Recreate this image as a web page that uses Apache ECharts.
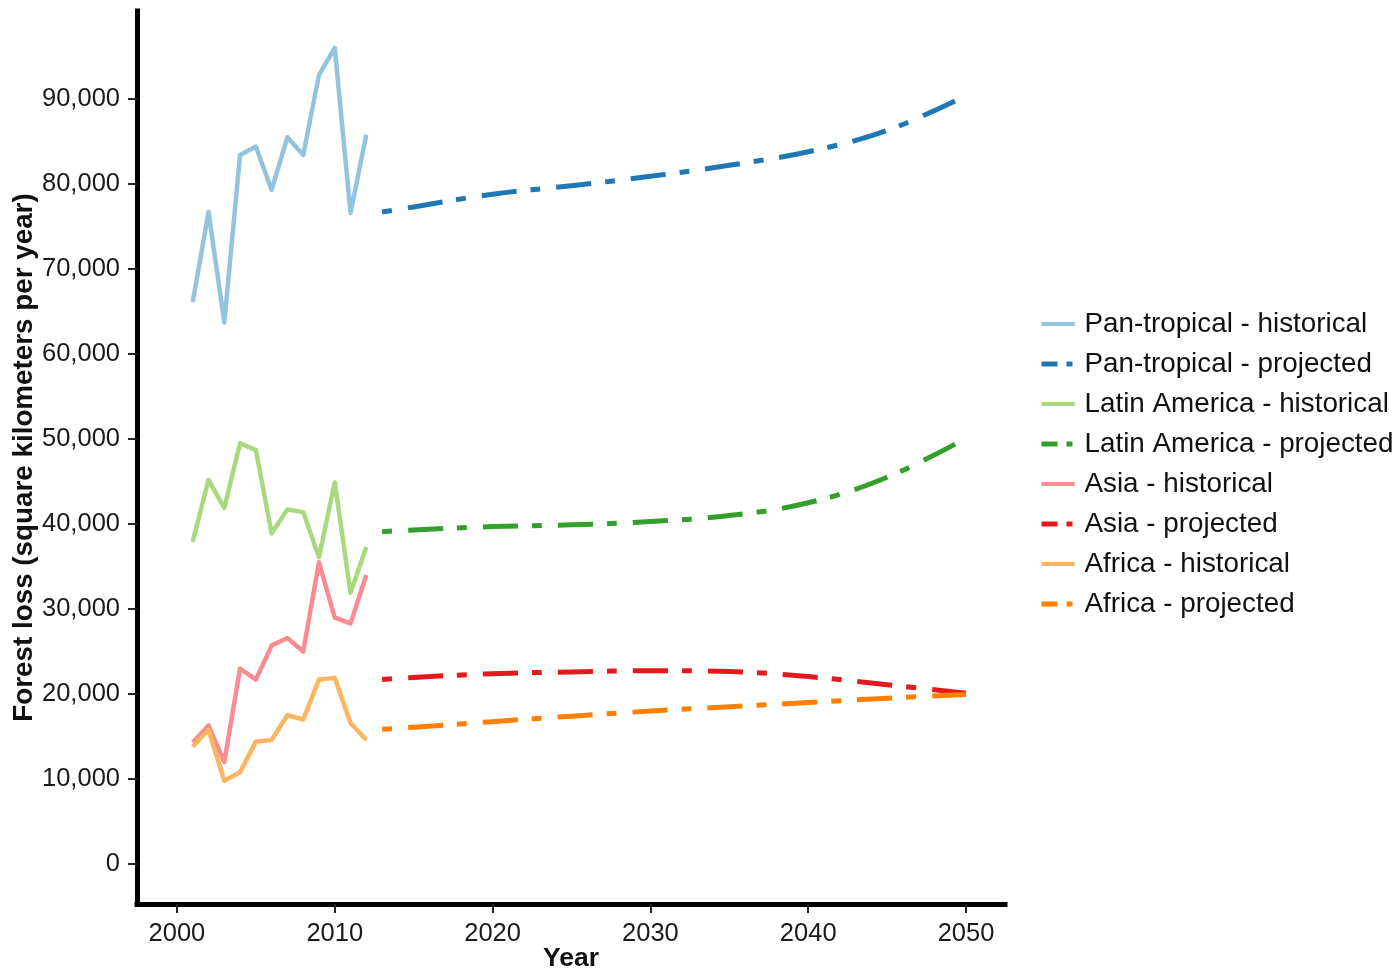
<!DOCTYPE html>
<html>
<head>
<meta charset="utf-8">
<script src="https://cdn.jsdelivr.net/npm/echarts@6/dist/echarts.min.js"></script>
<style>
html,body{margin:0;padding:0;background:#fff;}
#chart{width:1399px;height:974px;}
</style>
</head>
<body>
<div id="chart"></div>
<script>
// ---- data ----
const histYears = [2001, 2002, 2003, 2004, 2005, 2006, 2007, 2008, 2009, 2010, 2011, 2012];
const panHist  = [66100, 76700, 63700, 83400, 84400, 79300, 85500, 83400, 92800, 96000, 76600, 85800];
const latHist  = [37900, 45200, 41900, 49500, 48700, 38900, 41700, 41400, 36100, 44900, 31900, 37300];
const asiaHist = [14300, 16300, 12000, 23000, 21700, 25700, 26600, 25000, 35500, 29000, 28300, 34000];
const afrHist  = [13800, 15800, 9800, 10800, 14400, 14600, 17500, 17000, 21700, 21900, 16600, 14600];

const projYears = [2013, 2015, 2020, 2025, 2030, 2035, 2040, 2045, 2050];
const panProj  = [76700, 77300, 78800, 79800, 80900, 82200, 83800, 86300, 90400];
const latProj  = [39100, 39300, 39700, 39900, 40300, 41000, 42500, 45500, 50100];
const asiaProj = [21700, 21950, 22400, 22600, 22750, 22650, 22050, 21100, 20100];
const afrProj  = [15850, 16100, 16750, 17400, 18000, 18500, 19000, 19500, 19950];

const xTicks = [2000, 2010, 2020, 2030, 2040, 2050];
const yTicks = [0, 10000, 20000, 30000, 40000, 50000, 60000, 70000, 80000, 90000];

const names = [
  'Pan-tropical - historical', 'Pan-tropical - projected',
  'Latin America - historical', 'Latin America - projected',
  'Asia - historical', 'Asia - projected',
  'Africa - historical', 'Africa - projected'
];
const colors = ['#92c3df', '#1f78b4', '#a9d97f', '#33a02c', '#f98b91', '#e31a1c', '#fdb55f', '#ff7f00'];

function pairs(xs, ys) { return xs.map((x, i) => [x, ys[i]]); }

const FONT = '"Liberation Sans", Arial, Helvetica, sans-serif';
const projDash = [10, 16, 35, 14];

const seriesData = [
  pairs(histYears, panHist), pairs(projYears, panProj),
  pairs(histYears, latHist), pairs(projYears, latProj),
  pairs(histYears, asiaHist), pairs(projYears, asiaProj),
  pairs(histYears, afrHist), pairs(projYears, afrProj)
];

const series = seriesData.map((d, i) => {
  const proj = i % 2 === 1;
  return {
    name: names[i],
    type: 'line',
    data: d,
    symbol: 'none',
    showSymbol: false,
    smooth: proj ? 0.4 : false,
    z: proj ? 3 : 2,
    color: colors[i],
    lineStyle: {
      color: colors[i],
      width: proj ? 5 : 4.5,
      type: proj ? projDash : 'solid',
      cap: 'butt',
      join: 'round'
    },
    emphasis: { disabled: true },
    animation: false
  };
});

const legendData = names.map((n, i) => {
  const proj = i % 2 === 1;
  return {
    name: n,
    itemStyle: { opacity: 0 },
    lineStyle: { color: colors[i], width: proj ? 5 : 4, type: proj ? [16, 9, 6, 10] : 'solid', cap: 'butt', opacity: 1 }
  };
});

const chart = echarts.init(document.getElementById('chart'), null, { renderer: 'canvas' });
chart.setOption({
  backgroundColor: '#fff',
  animation: false,
  grid: { left: 137, right: 394, top: 11, bottom: 70, containLabel: false, outerBoundsMode: 'none' },
  xAxis: {
    type: 'value',
    min: 1997.47,
    max: 2052.47,
    name: 'Year',
    nameLocation: 'middle',
    nameGap: 41,
    nameMoveOverlap: false,
    nameTextStyle: { fontFamily: FONT, fontSize: 26.5, fontWeight: 'bold', color: '#111' },
    axisLine: { show: true, onZero: false, lineStyle: { color: '#000', width: 5, cap: 'square' } },
    axisTick: { show: true, length: 9, customValues: xTicks, lineStyle: { color: '#222', width: 2 } },
    axisLabel: {
      customValues: xTicks, margin: 17,
      fontFamily: FONT, fontSize: 25.5, color: '#1a1a1a',
      formatter: v => String(v)
    },
    splitLine: { show: false }
  },
  yAxis: {
    type: 'value',
    min: -4700,
    max: 100350,
    name: 'Forest loss (square kilometers per year)',
    nameLocation: 'middle',
    nameGap: 98.5,
    nameMoveOverlap: false,
    nameTextStyle: { fontFamily: FONT, fontSize: 27.8, fontWeight: 'bold', color: '#111' },
    axisLine: { show: true, onZero: false, lineStyle: { color: '#000', width: 5, cap: 'square' } },
    axisTick: { show: true, length: 9, customValues: yTicks, lineStyle: { color: '#222', width: 2 } },
    axisLabel: {
      customValues: yTicks, margin: 17,
      fontFamily: FONT, fontSize: 25.5, color: '#1a1a1a',
      formatter: v => Number(v).toLocaleString('en-US')
    },
    splitLine: { show: false }
  },
  legend: {
    orient: 'vertical',
    left: 1039,
    top: 309,
    padding: 0,
    itemWidth: 33,
    itemHeight: 14,
    itemGap: 10,
    selectedMode: false,
    data: legendData,
    textStyle: { fontFamily: FONT, fontSize: 27.8, color: '#111', lineHeight: 30, padding: [0, 0, 0, 5] }
  },
  series: series
});
</script>
</body>
</html>
